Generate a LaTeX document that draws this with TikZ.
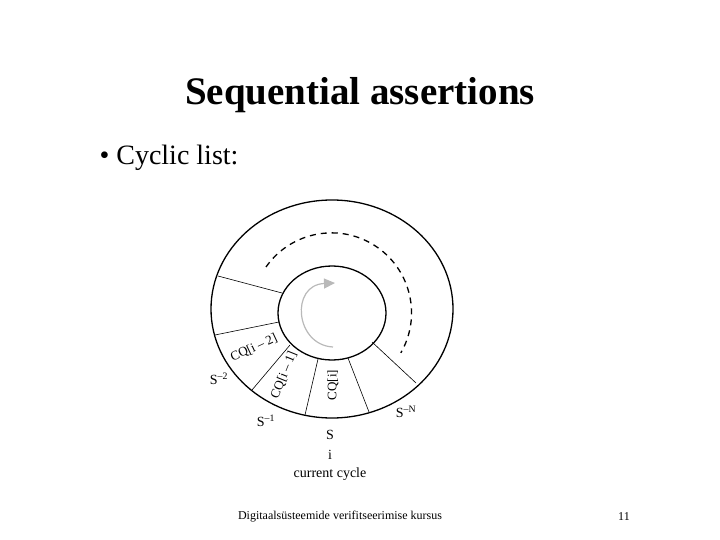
\documentclass[tikz,border=0pt]{standalone}
\usepackage{fontspec}
\setmainfont{Liberation Serif}
\usetikzlibrary{arrows.meta}
\begin{document}
\begin{tikzpicture}[x=1pt,y=-1pt,
  lbl/.style={inner sep=0pt,font=\fontsize{14}{14}\selectfont},
  rl/.style={inner sep=0pt,font=\fontsize{13}{13}\selectfont},
  ring/.style={line width=1.3pt},
  spoke/.style={line width=0.6pt}]
\useasboundingbox (0,0) rectangle (720,540);
\node[font=\fontsize{39}{39}\selectfont\bfseries] (title) at (360,95) {Sequential assertions};
\node[font=\fontsize{28}{28}\selectfont,anchor=west] (bullet) at (96,158) {\textbullet\ Cyclic list:};
\draw[ring] (332,309) ellipse [x radius=121,y radius=109];
\draw[ring] (332,313) ellipse [x radius=54,y radius=47];
\coordinate (o1) at (218,276); \coordinate (i1) at (282,293);
\coordinate (o2) at (215,335); \coordinate (i2) at (279,322);
\coordinate (o3) at (252,390); \coordinate (i3) at (290,345);
\coordinate (o4) at (305,415); \coordinate (i4) at (318,359);
\coordinate (o5) at (369,412); \coordinate (i5) at (348,358);
\coordinate (o6) at (416,383); \coordinate (i6) at (372,342);
\foreach \k in {1,...,6} \draw[spoke] (o\k) -- (i\k);
\draw[line width=1.3pt,dash pattern=on 6pt off 5pt] (266,267) arc[start angle=-145,end angle=30,x radius=80,y radius=80];
\draw[gray!55,line width=1.2pt,-{Triangle[length=11pt,width=10pt]}] (333,347) .. controls (295,345) and (290,285) .. (335,283);
\node[rl,rotate=25] (cq2) at (254,348) {CQ[i -- 2]};
\node[rl,rotate=68] (cq1) at (284,375) {CQ[i -- 1]};
\node[rl,rotate=90] (cq0) at (333,385) {CQ[i]};
\node[lbl] (s2) at (219,379) {S\textsuperscript{--2}};
\node[lbl] (s1) at (266,421) {S\textsuperscript{--1}};
\node[lbl] (sN) at (406,412) {S\textsuperscript{--N}};
\node[lbl] (s) at (330,435) {S};
\node[lbl] (i) at (330,455) {i};
\node[lbl] (cc) at (330,474) {current cycle};
\node[font=\fontsize{12}{12}\selectfont] (foot) at (340,517) {Digitaalsüsteemide verifitseerimise kursus};
\node[font=\fontsize{12}{12}\selectfont] (num) at (624,517) {11};
\end{tikzpicture}
\end{document}
